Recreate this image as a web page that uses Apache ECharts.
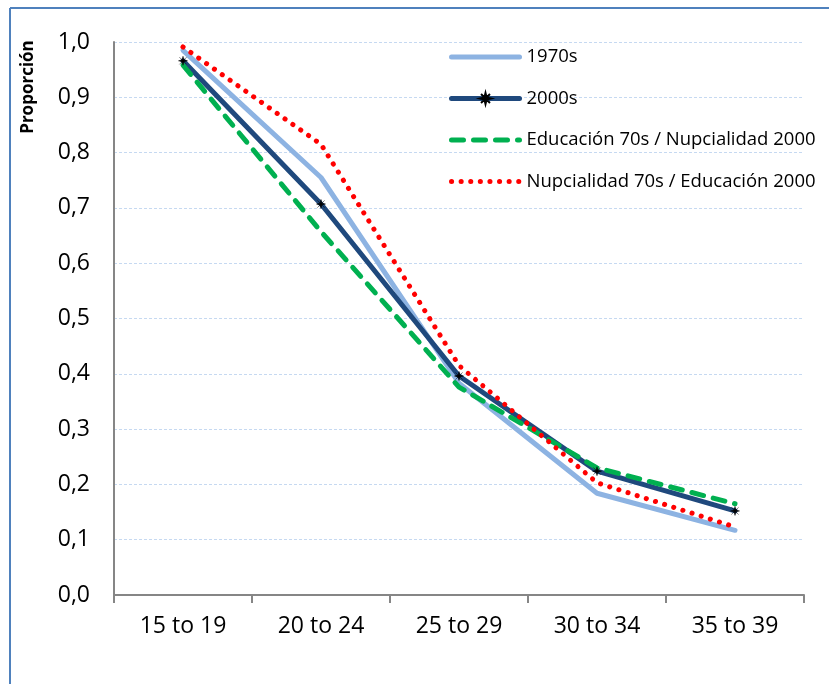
<!DOCTYPE html>
<html>
<head>
<meta charset="utf-8">
<script src="https://cdn.jsdelivr.net/npm/echarts@6/dist/echarts.min.js"></script>
<style>
  html, body { margin: 0; padding: 0; background: #fff; }
  #chart { width: 829px; height: 684px; }
</style>
</head>
<body>
<div id="chart"></div>
<script>
// categorias y valores
var categories = ['15 to 19', '20 to 24', '25 to 29', '30 to 34', '35 to 39']
var s1970 = [0.985, 0.755, 0.383, 0.184, 0.117]
var s2000 = [0.966, 0.707, 0.396, 0.224, 0.152]
var educ70nup2000 = [0.958, 0.657, 0.376, 0.230, 0.165]
var nup70educ2000 = [0.991, 0.815, 0.415, 0.203, 0.123]
var seriesNames = ['1970s', '2000s', 'Educación 70s / Nupcialidad 2000', 'Nupcialidad 70s / Educación 2000']

var fontFam = '"Open Sans", "Liberation Sans", sans-serif'
// marcador tipo asterisco
var starPath = 'path://M5,0 L6,4 L10,5 L6,6 L5,10 L4,6 L0,5 L4,4 Z M1,1 L9,9 M9,1 L1,9'

var chart = echarts.init(document.getElementById('chart'))
chart.setOption({
  animation: false,
  backgroundColor: '#fff',
  grid: { left: 114, right: 25, top: 42, bottom: 89 },
  graphic: [
    // marco del grafico (solo lados izquierdo y superior visibles)
    { type: 'line', shape: { x1: 10, y1: 8, x2: 829, y2: 8 }, style: { stroke: '#4f81bd', lineWidth: 2 } },
    { type: 'line', shape: { x1: 10, y1: 8, x2: 10, y2: 684 }, style: { stroke: '#4f81bd', lineWidth: 2 } },
    {
      type: 'text',
      x: 28, y: 87,
      rotation: Math.PI / 2,
      style: {
        text: 'Proporción',
        font: 'bold 17px ' + fontFam,
        fill: '#000',
        textAlign: 'center',
        textVerticalAlign: 'middle'
      }
    }
  ],
  legend: {
    orient: 'vertical',
    left: 444,
    top: 41,
    itemWidth: 68,
    itemHeight: 14,
    itemGap: 19.5,
    lineStyle: { width: 5 },
    data: [
      { name: seriesNames[0], itemStyle: { opacity: 0 } },
      { name: seriesNames[1] },
      { name: seriesNames[2], itemStyle: { opacity: 0 } },
      { name: seriesNames[3], itemStyle: { opacity: 0 } }
    ],
    textStyle: { fontSize: 18.5, fontFamily: fontFam, color: '#000', lineHeight: 22, padding: [0, 0, 0, 2] }
  },
  xAxis: {
    type: 'category',
    data: categories,
    axisLine: { lineStyle: { color: '#868686', width: 2 } },
    axisTick: { show: true, length: 8, lineStyle: { color: '#868686', width: 2 } },
    axisLabel: { fontSize: 23, fontFamily: fontFam, color: '#000', margin: 20 },
    splitLine: { show: false }
  },
  yAxis: {
    type: 'value',
    min: 0,
    max: 1,
    interval: 0.1,
    axisLine: { show: true, lineStyle: { color: '#868686', width: 2 } },
    axisTick: { show: false },
    axisLabel: {
      fontSize: 23, fontFamily: fontFam, color: '#000', margin: 24,
      formatter: function (v) { return v.toFixed(1).replace('.', ',') }
    },
    splitLine: { lineStyle: { color: '#c6d9f1', width: 1, type: [3, 2] } }
  },
  series: [
    {
      name: seriesNames[0],
      type: 'line',
      data: s1970,
      symbol: 'none',
      itemStyle: { color: '#8db3e2' },
      lineStyle: { color: '#8db3e2', width: 5, cap: 'round' }
    },
    {
      name: seriesNames[1],
      type: 'line',
      data: s2000,
      symbol: starPath,
      symbolSize: 9,
      itemStyle: { color: '#000', borderColor: '#000', borderWidth: 0.5 },
      lineStyle: { color: '#1f497d', width: 5, cap: 'round' }
    },
    {
      name: seriesNames[2],
      type: 'line',
      data: educ70nup2000,
      symbol: 'none',
      itemStyle: { color: '#00b050' },
      lineStyle: { color: '#00b050', width: 5, type: [12, 10], cap: 'round' }
    },
    {
      name: seriesNames[3],
      type: 'line',
      data: nup70educ2000,
      symbol: 'none',
      itemStyle: { color: '#ff0000' },
      lineStyle: { color: '#ff0000', width: 5, type: [0.1, 9.5], cap: 'round' }
    }
  ]
})
</script>
</body>
</html>
